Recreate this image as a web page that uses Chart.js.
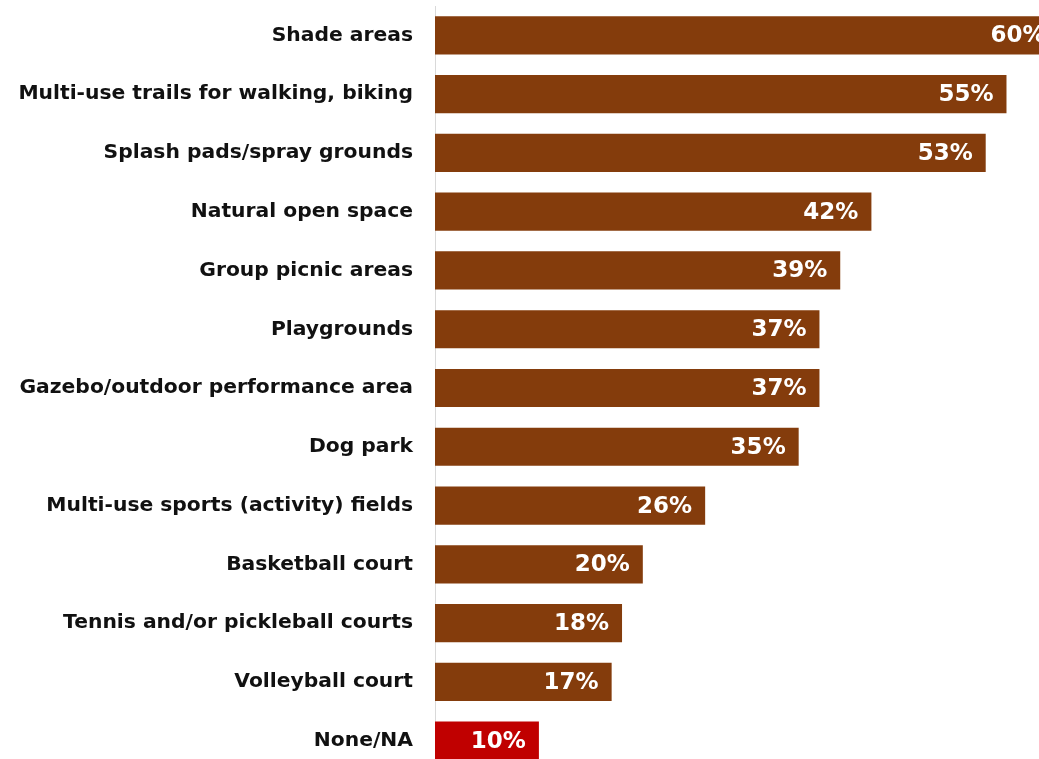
<!DOCTYPE html>
<html>
<head>
<meta charset="utf-8">
<script src="https://cdn.jsdelivr.net/npm/chart.js@4/dist/chart.umd.min.js"></script>
<style>
  html, body { margin: 0; padding: 0; background: #fff; overflow: hidden; }
  canvas { display: block; }
</style>
</head>
<body>
<canvas id="chart" width="1100" height="780"></canvas>
<script>
const categories = [
  'Shade areas',
  'Multi-use trails for walking, biking',
  'Splash pads/spray grounds',
  'Natural open space',
  'Group picnic areas',
  'Playgrounds',
  'Gazebo/outdoor performance area',
  'Dog park',
  'Multi-use sports (activity) fields',
  'Basketball court',
  'Tennis and/or pickleball courts',
  'Volleyball court',
  'None/NA'
];
const values = [60, 55, 53, 42, 39, 37, 37, 35, 26, 20, 18, 17, 10];
const barColors = values.map((v, i) => i === values.length - 1 ? '#c00000' : '#843c0c');

// draws the white % labels inside the end of each bar
const valueLabels = {
  id: 'valueLabels',
  afterDatasetsDraw(chart) {
    const ctx = chart.ctx;
    const meta = chart.getDatasetMeta(0);
    ctx.save();
    ctx.font = 'bold 23px "DejaVu Sans", Verdana, sans-serif';
    ctx.fillStyle = '#ffffff';
    ctx.textAlign = 'right';
    ctx.textBaseline = 'middle';
    meta.data.forEach((bar, i) => {
      ctx.fillText(values[i] + '%', bar.x - 13, bar.y + 1);
    });
    ctx.restore();
  }
};

new Chart(document.getElementById('chart'), {
  type: 'bar',
  data: {
    labels: categories,
    datasets: [{ data: values, backgroundColor: barColors, barPercentage: 0.65, categoryPercentage: 1 }]
  },
  options: {
    indexAxis: 'y',
    responsive: false,
    animation: false,
    layout: { padding: { top: 6, bottom: 10, left: 0, right: 0 } },
    plugins: { legend: { display: false }, tooltip: { enabled: false } },
    scales: {
      x: { display: false, min: 0, max: 64 },
      y: {
        afterFit(scale) {
          scale.width = 435;
          scale.paddingTop = 0;
          scale.paddingBottom = 0;
        },
        grid: { display: false, drawTicks: false },
        border: { display: true, color: '#d9d9d9', width: 1 },
        ticks: {
          color: '#111111',
          padding: 22,
          font: { family: '"DejaVu Sans", Verdana, sans-serif', size: 20.3, weight: 'bold' }
        }
      }
    }
  },
  plugins: [valueLabels]
});
</script>
</body>
</html>
